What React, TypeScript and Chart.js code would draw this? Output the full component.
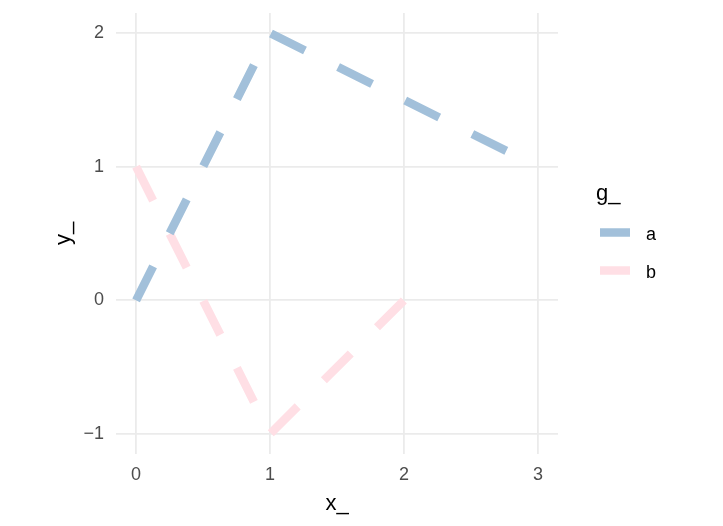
import React, { useEffect, useRef } from "react";
import { Chart, registerables } from "chart.js";

Chart.register(...registerables);

// ---- data ----
const seriesNames = ["a", "b"];
const aX = [0, 1, 3];
const aY = [0, 2, 1];
const bX = [0, 1, 2];
const bY = [1, -1, 0];
const xTicks = [0, 1, 2, 3];
const yTicks = [-1, 0, 1, 2];
const legendTitle = "g_";
const xTitle = "x_";
const yTitle = "y_";

// ---- styles ----
const seriesColors = ["#a2c0da", "#ffdfe5"];
const FONT = '"Liberation Sans", Arial, Helvetica, sans-serif';
const GRID = "#ebebeb";

const legendPlugin = {
  id: "ggLegend",
  afterDraw(chart: any) {
    const ctx = chart.ctx as CanvasRenderingContext2D;
    ctx.save();
    ctx.textAlign = "left";
    ctx.textBaseline = "alphabetic";
    ctx.fillStyle = "#000000";
    ctx.font = `22px ${FONT}`;
    ctx.fillText(legendTitle, 596, 200);
    chart.data.datasets.forEach((ds: any, i: number) => {
      const y = 232.5 + i * 38;
      ctx.strokeStyle = ds.borderColor;
      ctx.lineWidth = 8.5;
      ctx.lineCap = "butt";
      ctx.setLineDash([]);
      ctx.beginPath();
      ctx.moveTo(600, y);
      ctx.lineTo(630, y);
      ctx.stroke();
      ctx.fillStyle = "#000000";
      ctx.font = `18px ${FONT}`;
      ctx.fillText(ds.label, 646, 240 + i * 38);
    });
    ctx.restore();
  },
};

export default function App() {
  const ref = useRef<HTMLCanvasElement>(null);
  useEffect(() => {
    if (!ref.current) return;
    const makePts = (xs: number[], ys: number[]) => xs.map((x, i) => ({ x, y: ys[i] }));
    const lineStyle = {
      borderWidth: 8.5,
      borderDash: [38, 37],
      borderCapStyle: "butt",
      borderJoinStyle: "round",
      pointRadius: 0,
      tension: 0,
      fill: false,
    };
    const chart = new Chart(ref.current, {
      type: "line",
      data: {
        datasets: [
          {
            label: seriesNames[0],
            data: makePts(aX, aY),
            borderColor: seriesColors[0],
            backgroundColor: seriesColors[0],
            ...lineStyle,
          },
          {
            label: seriesNames[1],
            data: makePts(bX, bY),
            borderColor: seriesColors[1],
            backgroundColor: seriesColors[1],
            ...lineStyle,
          },
        ] as any,
      },
      options: {
        animation: false,
        responsive: false,
        layout: { padding: { left: 51, right: 165, top: 13, bottom: 9 } },
        plugins: {
          legend: { display: false },
          tooltip: { enabled: false },
        },
        scales: {
          x: {
            type: "linear",
            min: -0.15,
            max: 3.15,
            afterBuildTicks: (s: any) => {
              s.ticks = xTicks.map((v) => ({ value: v }));
            },
            afterFit: (s: any) => {
              s.height = 63;
              s.paddingLeft = 0;
              s.paddingRight = 0;
            },
            grid: { color: GRID, lineWidth: 1.8, drawTicks: false },
            border: { display: false },
            ticks: {
              color: "#4d4d4d",
              font: { family: FONT, size: 18 },
              padding: 10,
              maxRotation: 0,
            },
            title: {
              display: true,
              text: xTitle,
              color: "#000000",
              font: { family: FONT, size: 22 },
              padding: 0,
            },
          },
          y: {
            type: "linear",
            min: -1.15,
            max: 2.15,
            afterBuildTicks: (s: any) => {
              s.ticks = yTicks.map((v) => ({ value: v }));
            },
            afterFit: (s: any) => {
              s.width = 65;
              s.paddingTop = 0;
              s.paddingBottom = 0;
            },
            grid: { color: GRID, lineWidth: 1.8, drawTicks: false },
            border: { display: false },
            ticks: {
              color: "#4d4d4d",
              font: { family: FONT, size: 18 },
              padding: 12,
              callback: (v: any) => (Number(v) < 0 ? "\u2212" + Math.abs(Number(v)) : String(v)),
            },
            title: {
              display: true,
              text: yTitle,
              color: "#000000",
              font: { family: FONT, size: 22 },
              padding: 0,
            },
          },
        },
      },
      plugins: [legendPlugin],
    });
    return () => chart.destroy();
  }, []);
  return (
    <div style={{ position: "fixed", left: 0, top: 0, width: 723, height: 526, background: "#fff" }}>
      <canvas ref={ref} width={723} height={526} />
    </div>
  );
}
